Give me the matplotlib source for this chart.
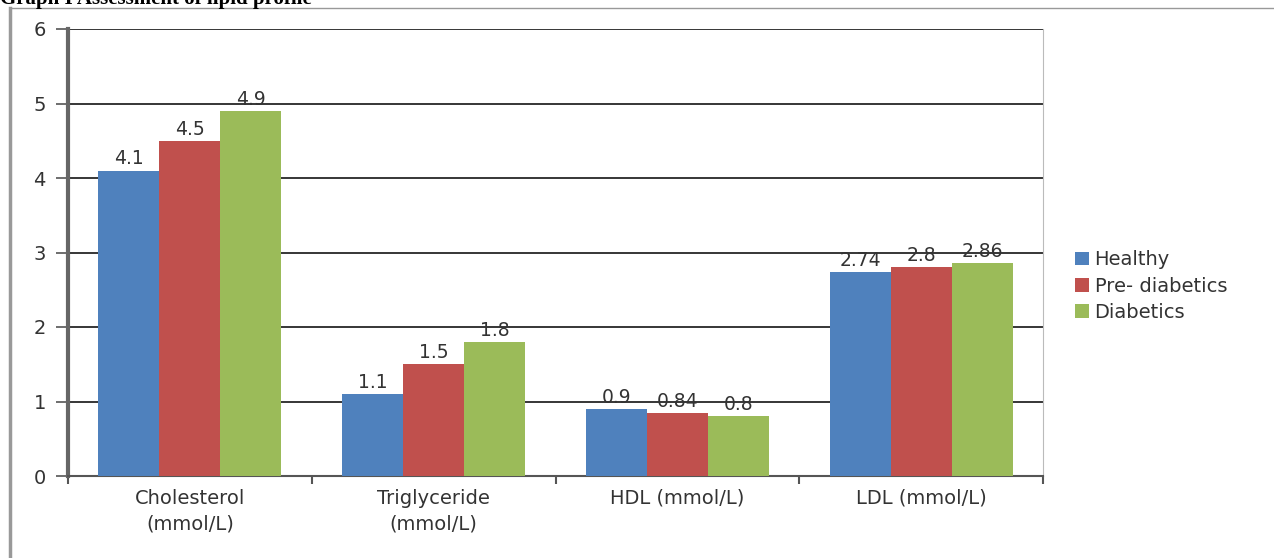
import numpy as np
import matplotlib.pyplot as plt
from matplotlib.lines import Line2D

# Data
categories = ['Cholesterol\n(mmol/L)', 'Triglyceride\n(mmol/L)', 'HDL (mmol/L)', 'LDL (mmol/L)']
healthy = [4.1, 1.1, 0.9, 2.74]
pre_diabetics = [4.5, 1.5, 0.84, 2.8]
diabetics = [4.9, 1.8, 0.8, 2.86]
series_names = ['Healthy', 'Pre- diabetics', 'Diabetics']
colors = ['#4f81bd', '#c0504d', '#9bbb59']

fig = plt.figure(figsize=(12.74, 5.58), dpi=100)
ax = fig.add_axes([68/1274, 1-476/558, (1043-68)/1274, (476-29)/558])

x = np.arange(len(categories))
w = 0.25
for i, (vals, name, c) in enumerate(zip([healthy, pre_diabetics, diabetics], series_names, colors)):
    pos = x + (i - 1) * w
    ax.bar(pos, vals, width=w, color=c, label=name, zorder=3)
    for p, v in zip(pos, vals):
        ax.text(p, v + 0.03, ('%g' % v), ha='center', va='bottom', fontsize=13.5,
                color='#333333', zorder=4)

ax.set_xlim(-0.5, len(categories) - 0.5)
ax.set_ylim(0, 6)
ax.set_yticks(range(0, 7))
ax.yaxis.grid(True, color='black', linewidth=1.1, zorder=1)
ax.set_xticks(x)
ax.set_xticklabels(categories, fontsize=14, color='#333333', linespacing=1.45)
ax.tick_params(axis='x', length=0, pad=9)
ax.tick_params(axis='y', length=9, width=1.2, labelsize=14, labelcolor='#333333',
               color='#555555', pad=7)
# category boundary ticks
ax.set_xticks(np.arange(-0.5, len(categories)), minor=True)
ax.tick_params(axis='x', which='minor', length=6, width=1.5, color='#555555')

ax.spines['top'].set_visible(False)
ax.spines['right'].set_color('#bbbbbb')
ax.spines['left'].set_color('#666666')
ax.spines['left'].set_linewidth(3)
ax.spines['bottom'].set_color('#555555')
ax.spines['bottom'].set_linewidth(1.5)

ax.legend(loc='center left', bbox_to_anchor=(1.015, 0.425), frameon=False, fontsize=14,
          handlelength=0.7, handleheight=0.7, handletextpad=0.3, labelspacing=0.38,
          labelcolor='#333333')

# outer frame and clipped caption
fig.add_artist(Line2D([10/1274, 10/1274], [0, 1-8/558], color='#999999', linewidth=2.5))
fig.add_artist(Line2D([10/1274, 1], [1-8/558, 1-8/558], color='#999999', linewidth=1))
fig.text(0, 1-4/558, 'Graph I Assessment of lipid profile', fontsize=15, fontweight='bold',
         family='Liberation Serif', va='baseline', ha='left')

fig.savefig('out.png', dpi=100)
